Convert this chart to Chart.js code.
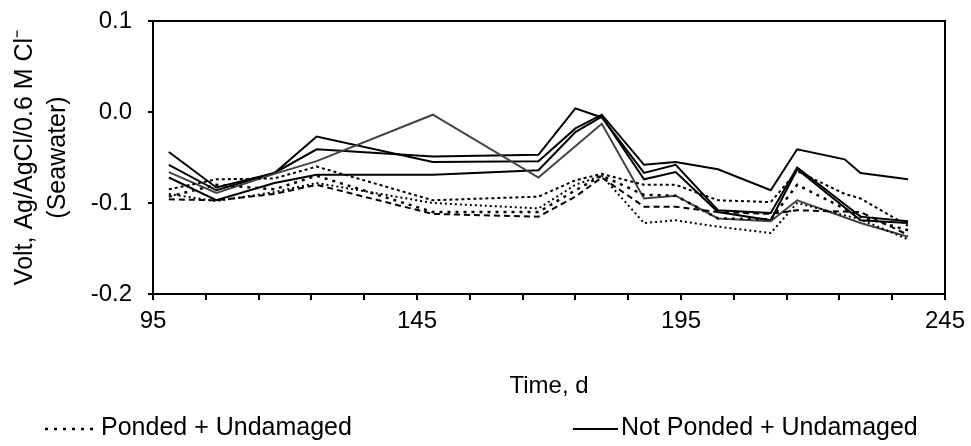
<!DOCTYPE html>
<html><head><meta charset="utf-8">
<script src="https://cdn.jsdelivr.net/npm/chart.js@4.4.1/dist/chart.umd.min.js"></script>
<style>html,body{margin:0;padding:0;background:#fff}#wrap{width:971px;height:446px;position:relative}</style>
</head><body><div id="wrap"><canvas id="c" width="971" height="446"></canvas></div>
<script>
const days = [98,107,118,126,148,168,175,180,188,194,202,212,217,226,229,238];
// Not Ponded + Undamaged (solid)
const blackA = [-0.044,-0.083,-0.067,-0.027,-0.055,-0.054,-0.018,-0.003,-0.058,-0.055,-0.063,-0.086,-0.041,-0.052,-0.067,-0.074];
const blackB = [-0.058,-0.086,-0.067,-0.041,-0.049,-0.047,0.004,-0.006,-0.067,-0.058,-0.108,-0.111,-0.061,null,-0.115,-0.120];
const blackC = [-0.072,-0.097,-0.078,-0.069,-0.069,-0.064,-0.022,-0.005,-0.074,-0.066,-0.110,-0.119,-0.063,null,-0.119,-0.122];
const grayS  = [-0.066,-0.089,-0.068,-0.054,-0.003,-0.072,null,-0.013,-0.095,-0.092,-0.117,-0.120,-0.097,null,-0.122,-0.137];
// Ponded + Undamaged (dotted)
const dotA = [-0.085,-0.074,-0.073,-0.060,-0.097,-0.093,-0.075,-0.068,-0.080,-0.080,-0.097,-0.099,-0.065,-0.090,-0.095,-0.125];
const dotB = [-0.093,-0.080,-0.085,-0.070,-0.110,-0.110,-0.086,-0.070,-0.091,-0.092,-0.117,-0.118,-0.080,null,-0.115,-0.130];
const dotC = [-0.096,-0.097,-0.090,-0.080,-0.112,-0.115,-0.093,-0.072,-0.104,-0.104,-0.110,-0.112,-0.108,null,-0.110,-0.135];
const dotD = [-0.090,-0.098,-0.088,-0.078,-0.100,-0.106,-0.080,-0.070,-0.122,-0.119,-0.126,-0.133,-0.100,null,-0.118,-0.140];
const xMajor = [95,145,195,245];
const yTicks = [-0.2,-0.1,0.0,0.1];
const legendLabels = ['Ponded + Undamaged','Not Ponded + Undamaged'];

const FONT = '"Liberation Sans", Arial, Helvetica, sans-serif';
Chart.defaults.color = '#000';
Chart.defaults.font.family = FONT;

function pts(arr){ return days.map((d,i)=>({x:d,y:arr[i]})); }
function solid(arr,color){ return {data:pts(arr),borderColor:color,borderWidth:2,pointRadius:0,fill:false,tension:0,spanGaps:true}; }
function dotted(arr,dash,w){ return {data:pts(arr),borderColor:'#000',borderWidth:w,borderDash:dash,borderCapStyle:'butt',pointRadius:0,fill:false,tension:0,spanGaps:true}; }

const frame = {
  id:'frame',
  afterDraw(chart){
    const {ctx, chartArea:a} = chart;
    ctx.save();
    ctx.strokeStyle='#000'; ctx.lineWidth=2;
    ctx.beginPath();
    ctx.moveTo(a.left, a.top); ctx.lineTo(a.right, a.top); ctx.lineTo(a.right, a.bottom);
    ctx.stroke();
    // legend
    const y = 428;
    ctx.font = '25px ' + FONT;
    ctx.fillStyle='#000'; ctx.textBaseline='middle'; ctx.textAlign='left';
    ctx.lineWidth=2.5; ctx.setLineDash([3,6]);
    ctx.beginPath(); ctx.moveTo(45,y+1); ctx.lineTo(97,y+1); ctx.stroke();
    ctx.setLineDash([]); ctx.lineWidth=2;
    ctx.fillText(legendLabels[0], 101, y);
    ctx.beginPath(); ctx.moveTo(573,y+1); ctx.lineTo(618,y+1); ctx.stroke();
    ctx.fillText(legendLabels[1], 621, y);
    ctx.restore();
  }
};

new Chart(document.getElementById('c'), {
  type:'line',
  data:{datasets:[
    dotted(dotA,[3,3],2),
    dotted(dotB,[3,5],2.5),
    dotted(dotC,[6,4],2),
    dotted(dotD,[2,3],2),
    solid(grayS,'#444'),
    solid(blackC,'#000'),
    solid(blackB,'#000'),
    solid(blackA,'#000')
  ]},
  options:{
    responsive:false, animation:false, devicePixelRatio:1,
    layout:{padding:{left:0,right:26,top:21,bottom:0}},
    plugins:{legend:{display:false},tooltip:{enabled:false}},
    scales:{
      x:{type:'linear',min:95,max:245,
        afterFit(s){ s.height = 152; s.paddingLeft = 0; s.paddingRight = 0; },
        border:{display:true,color:'#000',width:2},
        grid:{drawOnChartArea:false,drawTicks:true,tickLength:6,color:'#000',lineWidth:2},
        ticks:{stepSize:10,autoSkip:false,maxRotation:0,padding:7,font:{size:24},
          callback:(v)=> xMajor.includes(v) ? String(v) : ''},
        title:{display:true,text:'Time, d',font:{size:24},padding:{top:0,bottom:45}}
      },
      y:{min:-0.2,max:0.1,
        afterFit(s){ s.width = 153; s.paddingTop = 0; s.paddingBottom = 0; },
        afterBuildTicks(s){ s.ticks = yTicks.map(v=>({value:v})); },
        border:{display:true,color:'#000',width:2},
        grid:{drawOnChartArea:false,drawTicks:true,tickLength:5,color:'#000',lineWidth:2},
        ticks:{padding:16,font:{size:24},callback:(v)=> (Math.round(v*10)/10).toFixed(1)},
        title:{display:true,text:['Volt, Ag/AgCl/0.6 M Cl\u207B','(Seawater)'],font:{size:25,lineHeight:1.32},padding:{top:9,bottom:0}}
      }
    }
  },
  plugins:[frame]
});
</script></body></html>
